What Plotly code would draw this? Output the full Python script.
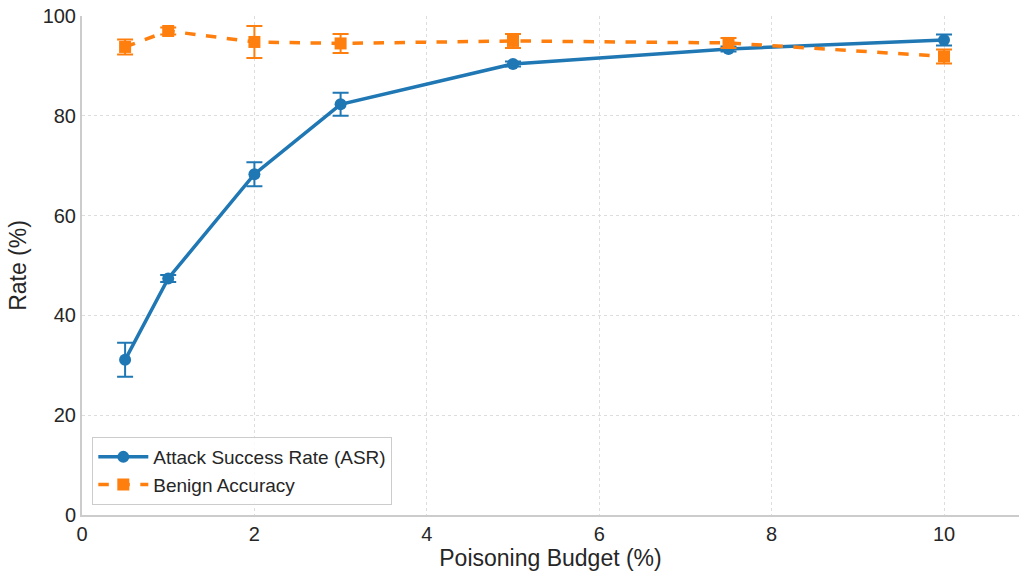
import plotly.graph_objects as go

budget = [0.5, 1, 2, 3, 5, 7.5, 10]
asr = [31.1, 47.4, 68.3, 82.3, 90.4, 93.4, 95.2]
asr_err = [3.4, 0.7, 2.4, 2.3, 0.5, 0.5, 1.1]
benign = [93.8, 97.0, 94.8, 94.5, 95.0, 94.6, 91.9]
benign_err = [1.5, 0.7, 3.2, 1.9, 1.4, 1.0, 1.4]

blue = "#1f77b4"
orange = "#ff7f0e"

fig = go.Figure()
fig.add_trace(go.Scatter(
    x=budget, y=asr, name="Attack Success Rate (ASR)",
    mode="lines+markers",
    line=dict(color=blue, width=3.5),
    marker=dict(symbol="circle", size=12, color=blue),
    error_y=dict(type="data", array=asr_err, visible=True, color=blue, thickness=2, width=8),
))
fig.add_trace(go.Scatter(
    x=budget, y=benign, name="Benign Accuracy",
    mode="lines+markers",
    line=dict(color=orange, width=3.5, dash="dash"),
    marker=dict(symbol="square", size=12, color=orange),
    error_y=dict(type="data", array=benign_err, visible=True, color=orange, thickness=2, width=8),
))

axis_font = dict(family="Liberation Sans, Arial, sans-serif", size=20, color="#262626")
fig.update_layout(
    width=1020, height=574,
    margin=dict(l=82, r=1, t=16, b=59),
    paper_bgcolor="white", plot_bgcolor="white",
    font=dict(family="Liberation Sans, Arial, sans-serif", color="#262626"),
    xaxis=dict(
        range=[0, 10.87], tickvals=[0, 2, 4, 6, 8, 10],
        tickfont=axis_font,
        title=dict(text="Poisoning Budget (%)", font=dict(size=23, color="#262626"), standoff=4),
        showgrid=True, gridcolor="#dddddd", griddash="dot", gridwidth=1,
        showline=True, linecolor="#cccccc", linewidth=2, zeroline=False,
        ticks="", ticklen=0,
    ),
    yaxis=dict(
        range=[0, 100], tickvals=[0, 20, 40, 60, 80, 100],
        tickfont=axis_font,
        title=dict(text="Rate (%)", font=dict(size=23, color="#262626"), standoff=10),
        showgrid=True, gridcolor="#dddddd", griddash="dot", gridwidth=1,
        showline=True, linecolor="#cccccc", linewidth=2, zeroline=False,
        ticks="", ticksuffix=" ",
    ),
    legend=dict(
        x=0.011, y=0.02, xanchor="left", yanchor="bottom",
        bgcolor="rgba(255,255,255,0.85)", bordercolor="#cccccc", borderwidth=1,
        font=dict(size=19, color="#262626"),
        itemwidth=50,
    ),
)

fig.write_html("out.html")
